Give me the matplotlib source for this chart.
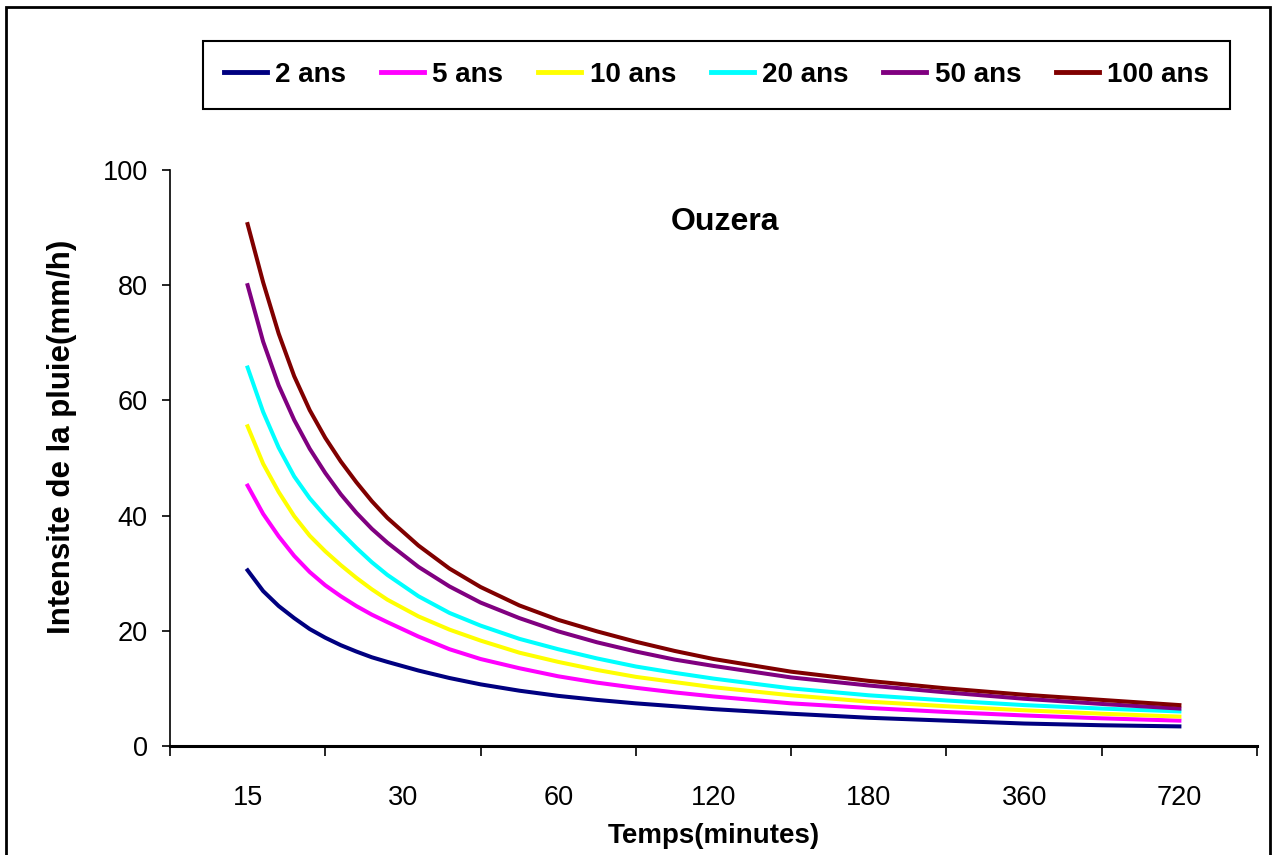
import matplotlib
matplotlib.use("Agg")
import matplotlib.pyplot as plt
from matplotlib.patches import Rectangle

plt.rcParams['font.family'] = ['Liberation Sans', 'DejaVu Sans']

# Courbes IDF - station d'Ouzera
durees = ['15', '30', '60', '120', '180', '360', '720']

# positions le long de l'axe des categories (en unites de graduation)
pos = [0.5, 0.6, 0.7, 0.8, 0.9, 1.0, 1.1, 1.2, 1.3, 1.4, 1.6, 1.8, 2.0,
       2.25, 2.5, 2.75, 3.0, 3.25, 3.5, 4.0, 4.5, 5.0, 5.5, 6.0, 6.5]

i_2ans = [30.5, 26.9, 24.3, 22.2, 20.3, 18.8, 17.5, 16.4, 15.4, 14.6, 13.1, 11.8, 10.7,
          9.6, 8.7, 8.0, 7.4, 6.9, 6.4, 5.6, 4.9, 4.4, 3.9, 3.6, 3.4]
i_5ans = [45.2, 40.3, 36.4, 33.0, 30.2, 27.9, 26.0, 24.3, 22.8, 21.5, 19.0, 16.8, 15.1,
          13.5, 12.1, 11.0, 10.1, 9.3, 8.6, 7.4, 6.6, 5.9, 5.3, 4.8, 4.4]
i_10ans = [55.5, 49.0, 44.1, 39.9, 36.5, 33.8, 31.4, 29.2, 27.2, 25.4, 22.5, 20.2, 18.3,
           16.2, 14.6, 13.2, 12.0, 11.1, 10.2, 8.8, 7.7, 6.9, 6.2, 5.6, 5.1]
i_20ans = [65.7, 58.0, 51.8, 46.8, 43.0, 39.9, 37.1, 34.4, 31.9, 29.7, 26.0, 23.1, 20.9,
           18.6, 16.8, 15.2, 13.8, 12.7, 11.7, 10.0, 8.8, 7.9, 7.1, 6.5, 6.0]
i_50ans = [80.0, 70.2, 62.6, 56.6, 51.6, 47.4, 43.7, 40.5, 37.7, 35.3, 31.1, 27.7, 24.9,
           22.2, 19.9, 18.0, 16.4, 15.0, 13.9, 11.9, 10.5, 9.3, 8.2, 7.3, 6.5]
i_100ans = [90.6, 80.5, 71.6, 64.2, 58.3, 53.5, 49.4, 45.8, 42.5, 39.6, 34.8, 30.8, 27.6,
            24.4, 21.9, 19.9, 18.1, 16.5, 15.1, 12.9, 11.3, 10.0, 8.9, 8.0, 7.1]

series = [
    ('2 ans', i_2ans, '#000080'),
    ('5 ans', i_5ans, '#FF00FF'),
    ('10 ans', i_10ans, '#FFFF00'),
    ('20 ans', i_20ans, '#00FFFF'),
    ('50 ans', i_50ans, '#800080'),
    ('100 ans', i_100ans, '#800000'),
]

fig = plt.figure(figsize=(12.74, 8.55), dpi=100)
ax = fig.add_axes([0.1334, 0.1275, 0.8533, 0.6737])

for nom, val, couleur in series:
    ax.plot(pos, val, color=couleur, lw=2.9, label=nom)

ax.set_xlim(0, len(durees))
ax.set_ylim(0, 100)

# graduations entre les categories, etiquettes au centre
ax.set_xticks(range(len(durees) + 1))
ax.set_xticklabels([])
ax.set_xticks([k + 0.5 for k in range(len(durees))], minor=True)
ax.set_xticklabels(durees, minor=True, fontsize=19.5)
ax.tick_params(axis='x', which='major', direction='out', length=7.5, width=1.2)
ax.tick_params(axis='x', which='minor', length=0, pad=28)

ax.set_yticks(range(0, 101, 20))
ax.tick_params(axis='y', direction='out', length=6, width=1.2, labelsize=19.5, pad=10)

for cote in ['top', 'right']:
    ax.spines[cote].set_visible(False)
ax.spines['bottom'].set_linewidth(2.2)
ax.spines['left'].set_linewidth(1.2)

ax.set_xlabel('Temps(minutes)', fontsize=20, fontweight='bold', labelpad=9)
ax.set_ylabel('Intensite de la pluie(mm/h)', fontsize=22.5, fontweight='bold')
ax.yaxis.set_label_coords(-0.0856, 0.536)

ax.text(0.511, 0.910, 'Ouzera', transform=ax.transAxes, ha='center', va='center',
        fontsize=23, fontweight='bold')

leg = fig.legend(loc='center', bbox_to_anchor=(0.5624, 0.9123), ncol=6,
                 prop={'size': 20, 'weight': 'bold'}, handlelength=1.55,
                 handletextpad=0.3, columnspacing=1.25, borderpad=0.75,
                 fancybox=False, framealpha=1)
leg.get_frame().set_edgecolor('black')
leg.get_frame().set_linewidth(1.5)
for ligne in leg.get_lines():
    ligne.set_linewidth(3.5)

# cadre autour de la figure
fig.add_artist(Rectangle((6 / 1274, -0.05), 1264 / 1274, 1.05 - 7 / 855,
                         transform=fig.transFigure, fill=False,
                         edgecolor='black', linewidth=2))

fig.savefig('out.png', dpi=100)
